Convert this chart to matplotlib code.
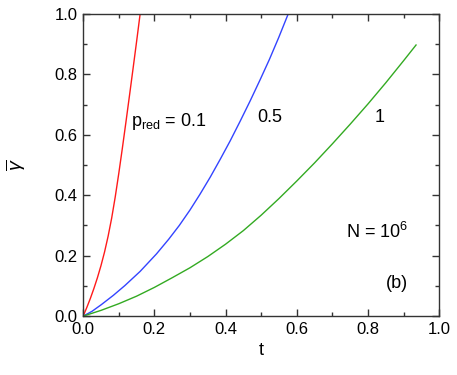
import numpy as np
import matplotlib
matplotlib.use("Agg")
import matplotlib.pyplot as plt
from matplotlib.ticker import MultipleLocator

plt.rcParams['font.family'] = ['Liberation Sans', 'DejaVu Sans']
plt.rcParams['mathtext.fontset'] = 'custom'
plt.rcParams['mathtext.rm'] = 'Liberation Sans'
plt.rcParams['mathtext.it'] = 'Liberation Sans:italic'
plt.rcParams['mathtext.sf'] = 'Liberation Sans'

# curves: (t, gamma_bar)
t_red = [0, 0.01, 0.02, 0.03, 0.04, 0.05, 0.06, 0.07, 0.08, 0.09,
         0.10, 0.11, 0.12, 0.13, 0.14, 0.15, 0.16]
g_red = [0, 0.028, 0.058, 0.091, 0.127, 0.167, 0.212, 0.264, 0.324, 0.394,
         0.472, 0.555, 0.641, 0.729, 0.818, 0.908, 1.0]

t_blue = [0, 0.025, 0.051, 0.085, 0.117, 0.16, 0.206, 0.240, 0.270, 0.300,
          0.328, 0.357, 0.385, 0.413, 0.441, 0.469, 0.497, 0.523, 0.549, 0.576]
g_blue = [0, 0.016, 0.038, 0.069, 0.101, 0.148, 0.206, 0.254, 0.300, 0.351,
          0.403, 0.460, 0.519, 0.580, 0.645, 0.712, 0.782, 0.849, 0.921, 1.0]

t_green = [0, 0.05, 0.10, 0.15, 0.20, 0.25, 0.30, 0.35, 0.40, 0.45,
           0.50, 0.55, 0.60, 0.65, 0.70, 0.75, 0.80, 0.85, 0.90, 0.935]
g_green = [0, 0.019, 0.041, 0.066, 0.095, 0.127, 0.160, 0.197, 0.238, 0.283,
           0.334, 0.389, 0.447, 0.507, 0.570, 0.635, 0.702, 0.772, 0.845, 0.897]

fig = plt.figure(figsize=(4.57, 3.75), dpi=100)
ax = fig.add_axes([0.182, 0.157, 0.779, 0.806])

ax.plot(t_red, g_red, color='#ff1a1a', lw=1.0)
ax.plot(t_blue, g_blue, color='#3344ff', lw=1.0)
ax.plot(t_green, g_green, color='#33aa22', lw=1.0)

ax.set_xlim(0, 1)
ax.set_ylim(0, 1)
ax.xaxis.set_major_locator(MultipleLocator(0.2))
ax.xaxis.set_minor_locator(MultipleLocator(0.1))
ax.yaxis.set_major_locator(MultipleLocator(0.2))
ax.yaxis.set_minor_locator(MultipleLocator(0.1))
ax.xaxis.set_major_formatter(lambda v, p: f"{v:.1f}")
ax.yaxis.set_major_formatter(lambda v, p: f"{v:.1f}")
ax.tick_params(which='both', direction='in', top=True, right=True,
               color='#333333', width=1.0, labelsize=12)
ax.tick_params(which='major', length=5, pad=4)
ax.tick_params(which='minor', length=3)
for s in ax.spines.values():
    s.set_color('#333333')
    s.set_linewidth(1.0)

ax.set_xlabel('t', fontsize=13, labelpad=4)
fig.text(0.035, 0.56, r'$\overline{\gamma}$', rotation=90, fontsize=14,
         ha='center', va='center')

ax.text(0.135, 0.645, r'p$_{\rm red}$ = 0.1', fontsize=13, va='center')
ax.text(0.523, 0.657, '0.5', fontsize=13, ha='center', va='center')
ax.text(0.833, 0.657, '1', fontsize=13, ha='center', va='center')
ax.text(0.739, 0.258, r'N = 10$^{6}$', fontsize=13, va='baseline')
ax.text(0.88, 0.108, '(b)', fontsize=13, ha='center', va='center')

fig.savefig('out.png', dpi=100)
